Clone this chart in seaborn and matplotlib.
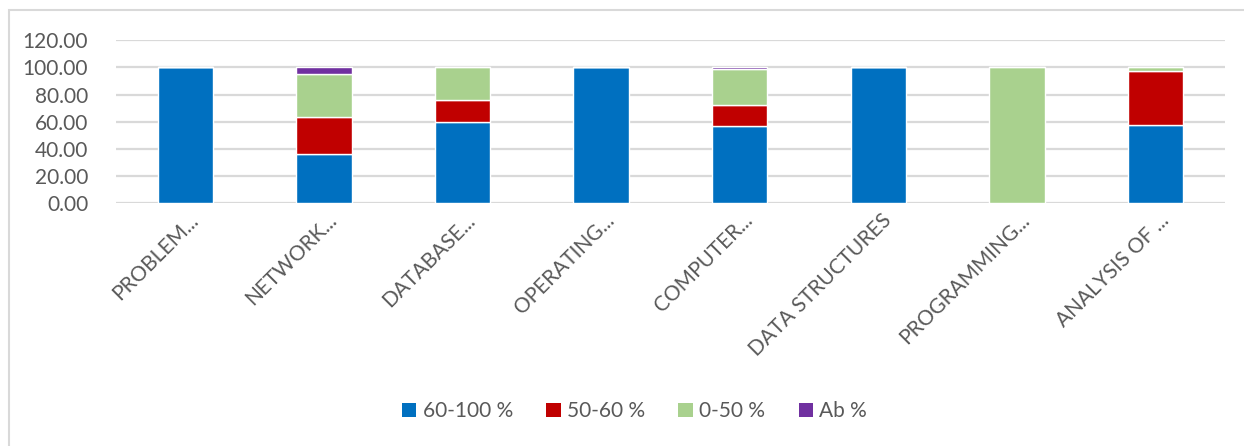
import pandas as pd
import matplotlib.pyplot as plt
import matplotlib.transforms as mtransforms
import seaborn as sns
from matplotlib.patches import Patch, Rectangle

# ==============================
# Data
# ==============================
subjects = ["PROBLEM...", "NETWORK...", "DATABASE...", "OPERATING...",
            "COMPUTER...", "DATA STRUCTURES", "PROGRAMMING...", "ANALYSIS OF ..."]
pct_60_100 = [100.0, 36.36, 59.46, 100.0, 56.90, 100.0, 0.0, 57.89]
pct_50_60 = [0.0, 27.27, 16.22, 0.0, 15.20, 0.0, 0.0, 39.47]
pct_0_50 = [0.0, 31.82, 24.32, 0.0, 26.40, 0.0, 100.0, 2.63]
pct_ab = [0.0, 4.55, 0.0, 0.0, 1.50, 0.0, 0.0, 0.0]

series_names = ["60-100 %", "50-60 %", "0-50 %", "Ab %"]
series_vals = [pct_60_100, pct_50_60, pct_0_50, pct_ab]
colors = ["#0070C0", "#C00000", "#A9D18E", "#7030A0"]
yticks = [0, 20, 40, 60, 80, 100, 120]

df = pd.DataFrame({"Subject": subjects})
for name, vals in zip(series_names, series_vals):
    df[name] = vals

# ==============================
# Plot
# ==============================
sns.set_style("white")
plt.rcParams["font.family"] = ["Lato", "DejaVu Sans"]
text_col = "#595959"

fig = plt.figure(figsize=(12.44, 4.46), dpi=100)
ax = fig.add_axes([0.0932, 0.544, 0.8915, 0.366])

bottom = pd.Series([0.0] * len(df))
for name, col in zip(series_names, colors):
    sns.barplot(data=df, x="Subject", y=name, color=col, width=0.4,
                bottom=bottom.values, ax=ax, saturation=1, zorder=3)
    bottom = bottom + df[name]

ax.set_ylim(0, 120)
ax.set_xlim(-0.5, len(subjects) - 0.5)
ax.set_yticks(yticks)
ax.set_yticklabels([f"{v:.2f}" for v in yticks], fontsize=15, color=text_col)
ax.set_xticks(range(len(subjects)))
ax.set_xticklabels(subjects, rotation=45, ha="right", va="center",
                   rotation_mode="anchor", fontsize=15, color=text_col)
ax.tick_params(axis="both", length=0)
ax.tick_params(axis="y", pad=20)
ax.tick_params(axis="x", pad=10)
shift = mtransforms.ScaledTranslation(10 / 100, 0, fig.dpi_scale_trans)
for lbl in ax.get_xticklabels():
    lbl.set_transform(lbl.get_transform() + shift)
ax.set_xlabel("")
ax.set_ylabel("")
ax.yaxis.grid(True, color="#D9D9D9", linewidth=1.6, zorder=0)
ax.set_axisbelow(True)
for s in ax.spines.values():
    s.set_visible(False)

handles = [Patch(facecolor=c, edgecolor="none", label=n) for n, c in zip(series_names, colors)]
fig.legend(handles=handles, loc="center", bbox_to_anchor=(0.51, 0.078), ncol=4,
           frameon=False, fontsize=15, labelcolor=text_col, handlelength=0.7,
           handleheight=0.7, handletextpad=0.3, columnspacing=1.6)

# chart area border
fig.patches.append(Rectangle((9 / 1244, -0.1), 1.2, 1 - 10 / 446 + 0.1,
                             transform=fig.transFigure, fill=False,
                             edgecolor="#D9D9D9", linewidth=1.5))

fig.savefig("out.png", dpi=100)
